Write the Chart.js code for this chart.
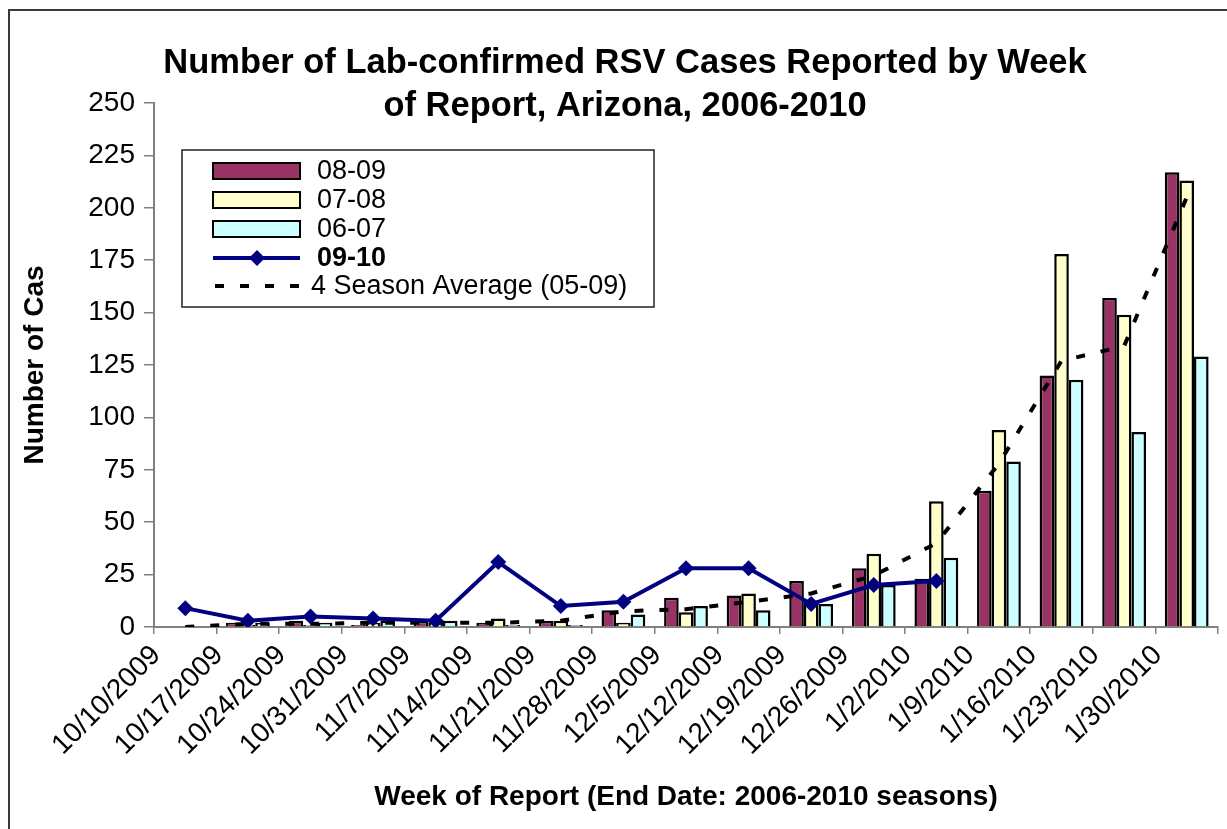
<!DOCTYPE html>
<html><head><meta charset="utf-8">
<script src="https://cdn.jsdelivr.net/npm/chart.js@4.4.1/dist/chart.umd.min.js"></script>
<style>html,body{margin:0;padding:0;background:#fff;overflow:hidden}canvas{display:block}</style>
</head><body>
<canvas id="c" width="1227" height="829"></canvas>
<script>
const weeks = ['10/10/2009','10/17/2009','10/24/2009','10/31/2009','11/7/2009','11/14/2009','11/21/2009','11/28/2009','12/5/2009','12/12/2009','12/19/2009','12/26/2009','1/2/2010','1/9/2010','1/16/2010','1/23/2010','1/30/2010'];
const s0809 = [0,2,3,1,3,2,3,8,14,15,22,28,23,65,120,157,217];
const s0708 = [0,1,1,2,2,4,3,2,7,16,12,35,60,94,178,149,213];
const s0607 = [0,2,2,3,3,1,1,6,10,8,11,20,33,79,118,93,129];
const s0910 = [9,3,5,4,3,31,10,12,28,28,11,20,22];
const avg4 = [0,1.5,1.5,2,2,2,3,7.5,8.5,12,16,24.5,40,78,127,134,205];
const yTicks = [0,25,50,75,100,125,150,175,200,225,250];
const titleLines = ['Number of Lab-confirmed RSV Cases Reported by Week','of Report, Arizona, 2006-2010'];
const seriesNames = ['08-09','07-08','06-07','09-10','4 Season Average (05-09)'];
const xTitle = 'Week of Report (End Date: 2006-2010 seasons)';
const yTitle = 'Number of Cas';

const FONT = '"Liberation Sans", Arial, sans-serif';

const decor = {
  id: 'decor',
  beforeDraw(chart) {
    const ctx = chart.ctx;
    ctx.save();
    ctx.fillStyle = '#fff';
    ctx.fillRect(0, 0, chart.width, chart.height);
    ctx.strokeStyle = '#3a3a3a';
    ctx.lineWidth = 2;
    ctx.beginPath();
    ctx.moveTo(9, chart.height + 5);
    ctx.lineTo(9, 10);
    ctx.lineTo(chart.width + 5, 10);
    ctx.stroke();
    ctx.restore();
  },
  afterDraw(chart) {
    const ctx = chart.ctx;
    ctx.save();
    ctx.fillStyle = '#000';
    ctx.font = 'bold 34.5px ' + FONT;
    ctx.textAlign = 'center';
    ctx.textBaseline = 'alphabetic';
    titleLines.forEach((t, i) => ctx.fillText(t, 625, 73 + i * 43));
    const bx = 182, by = 150, bw = 472, bh = 157;
    ctx.fillStyle = '#fff';
    ctx.fillRect(bx, by, bw, bh);
    ctx.strokeStyle = '#222';
    ctx.lineWidth = 1.5;
    ctx.strokeRect(bx, by, bw, bh);
    const rows = [171, 200, 229, 258, 286];
    const ds = chart.data.datasets;
    ds.forEach((d, i) => {
      const y = rows[i];
      if (d.type === 'line') {
        ctx.strokeStyle = d.borderColor;
        ctx.lineWidth = d.borderWidth;
        ctx.setLineDash(d.borderDash || []);
        ctx.beginPath();
        if (d.borderDash) { ctx.moveTo(215, y); ctx.lineTo(304, y); }
        else { ctx.moveTo(213, y); ctx.lineTo(300, y); }
        ctx.stroke();
        ctx.setLineDash([]);
        if (d.pointRadius > 0) {
          ctx.fillStyle = d.pointBackgroundColor;
          const r = d.pointRadius;
          ctx.beginPath();
          ctx.moveTo(257, y - r); ctx.lineTo(257 + r, y); ctx.lineTo(257, y + r); ctx.lineTo(257 - r, y);
          ctx.closePath(); ctx.fill();
        }
      } else {
        ctx.fillStyle = d.backgroundColor;
        ctx.fillRect(213, y - 8, 87, 16);
        ctx.strokeStyle = '#000';
        ctx.lineWidth = 2;
        ctx.strokeRect(213, y - 8, 87, 16);
      }
      ctx.fillStyle = '#000';
      ctx.textAlign = 'left';
      ctx.textBaseline = 'middle';
      ctx.font = (i === 3 ? 'bold ' : '') + '27px ' + FONT;
      ctx.fillText(d.label, d.borderDash ? 311 : 317, y + 1);
    });
    ctx.restore();
  }
};

new Chart(document.getElementById('c'), {
  type: 'bar',
  data: {
    labels: weeks,
    datasets: [
      { label: seriesNames[0], data: s0809, backgroundColor: '#993366', borderColor: '#000', borderWidth: 2.5, order: 3, categoryPercentage: 0.7, barPercentage: 1.0 },
      { label: seriesNames[1], data: s0708, backgroundColor: '#FFFFCC', borderColor: '#000', borderWidth: 2.5, order: 3, categoryPercentage: 0.7, barPercentage: 1.0 },
      { label: seriesNames[2], data: s0607, backgroundColor: '#CCFFFF', borderColor: '#000', borderWidth: 2.5, order: 3, categoryPercentage: 0.7, barPercentage: 1.0 },
      { type: 'line', label: seriesNames[3], data: s0910, borderColor: '#000080', backgroundColor: '#000080', borderWidth: 4, pointStyle: 'rectRot', pointRadius: 8, pointBackgroundColor: '#000080', pointBorderColor: '#000080', pointBorderWidth: 0, tension: 0, fill: false, order: 0 },
      { type: 'line', label: seriesNames[4], data: avg4, borderColor: '#000', backgroundColor: '#000', borderWidth: 4, borderDash: [9, 16], borderCapStyle: 'butt', pointRadius: 0, tension: 0, fill: false, order: 1 }
    ]
  },
  options: {
    responsive: false,
    animation: false,
    devicePixelRatio: 1,
    layout: { padding: { left: 0, right: 9, top: 103, bottom: 0 } },
    plugins: { legend: { display: false }, title: { display: false }, tooltip: { enabled: false } },
    scales: {
      x: {
        offset: true,
        grid: { offset: true, drawOnChartArea: false, drawTicks: true, tickLength: 7, color: '#808080', lineWidth: 1.5 },
        border: { color: '#808080', width: 2 },
        ticks: { autoSkip: false, minRotation: 45, maxRotation: 45, labelOffset: -29, padding: 5, color: '#000', font: { family: FONT, size: 28 } },
        title: { display: true, text: xTitle, color: '#000', font: { family: FONT, size: 28, weight: 'bold' }, padding: { top: 0, bottom: 15 } },
        afterFit(scale) { scale.height = 829 - 627; scale.paddingLeft = 0; scale.paddingRight = 0; }
      },
      y: {
        min: 0, max: 250,
        afterBuildTicks(scale) { scale.ticks = yTicks.map(v => ({ value: v })); },
        grid: { drawOnChartArea: false, drawTicks: true, tickLength: 10, color: '#808080', lineWidth: 1.5 },
        border: { color: '#808080', width: 2 },
        ticks: { padding: 9, color: '#000', font: { family: FONT, size: 28 } },
        title: { display: true, text: yTitle, color: '#000', font: { family: FONT, size: 28, weight: 'bold' }, padding: { top: 18, bottom: 0 } },
        afterFit(scale) { scale.width = 154; }
      }
    }
  },
  plugins: [decor]
});
</script>
</body></html>
